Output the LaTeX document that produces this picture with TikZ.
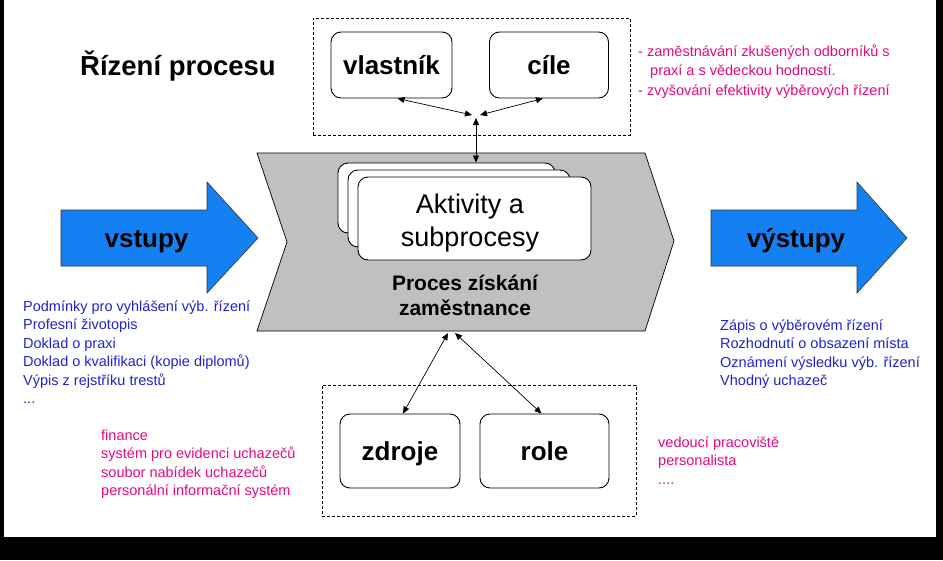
\documentclass[tikz,border=0pt]{standalone}
\usepackage{fontspec}
\setmainfont{Liberation Sans}
\usetikzlibrary{arrows.meta}
\definecolor{pinkt}{RGB}{228,10,130}
\definecolor{bluet}{RGB}{35,35,205}
\definecolor{arrowblue}{RGB}{20,128,242}
\definecolor{chevgray}{RGB}{192,192,192}
\begin{document}
\begin{tikzpicture}[x=1pt,y=-1pt,
  box/.style={draw=black, line width=0.9pt, rounded corners=10pt, fill=white, inner sep=0pt, text depth=0pt},
  grp/.style={draw=black, dash pattern=on 3pt off 2pt, line width=0.8pt, inner sep=0pt},
  link/.style={line width=0.7pt, {Triangle[length=7pt,width=6pt]}-{Triangle[length=7pt,width=6pt]}},
  big/.style={font=\fontsize{26}{30}\selectfont\bfseries},
  small/.style={font=\fontsize{14.5}{18.5}\selectfont, anchor=base west, inner sep=0pt},
  blockarrow/.style={fill=arrowblue, draw=black!80, line width=0.6pt},
]
\useasboundingbox (0,0) rectangle (943,560);
\fill[black] (0,0) rectangle (943,560);
\fill[white] (4,0) rectangle (936,537);

% dashed groups
\node[grp, minimum width=317pt, minimum height=117pt] (topgrp) at (471.5,76.5) {};
\node[grp, minimum width=314pt, minimum height=131pt] (botgrp) at (479,450.5) {};

% chevron
\draw[fill=chevgray, line width=0.7pt] (257,153) -- (645,153) -- (674,241) -- (645,331) -- (257,331) -- (287,242) -- cycle;
\node[font=\fontsize{21}{25}\selectfont\bfseries, align=center, anchor=base, inner sep=0pt] (proc) at (465,315) {Proces získání\\zaměstnance};

% activity boxes
\node[box, minimum width=217pt, minimum height=70pt] (act1) at (446.5,198) {};
\node[box, minimum width=222pt, minimum height=77pt] (act2) at (459,208.5) {};
\node[box, minimum width=233pt, minimum height=83pt] (act3) at (474.5,218.5) {};
\node[font=\fontsize{27}{33}\selectfont, align=center, anchor=base, inner sep=0pt] (acttext) at (470,246) {Aktivity a\\subprocesy};

% top boxes
\node[box, big, minimum width=121pt, minimum height=66pt] (vl) at (391.5,65) {vlastník};
\node[box, big, minimum width=119pt, minimum height=66pt] (ci) at (549,65) {cíle};
% bottom boxes
\node[box, big, minimum width=120pt, minimum height=74pt] (zd) at (400,451) {zdroje};
\node[box, big, minimum width=129pt, minimum height=74pt] (ro) at (544.5,451) {role};

% connectors
\coordinate (jL) at (472,115);
\coordinate (jR) at (480,115);
\coordinate (jT) at (476,118);
\draw[link] ([xshift=6pt]vl.south) -- (jL);
\draw[link] ([xshift=-6pt]ci.south) -- (jR);
\draw[link] (jT) -- (jT |- act1.north);
\coordinate (cb1) at (448,333);
\coordinate (cb2) at (455,333);
\draw[link] (cb1) -- ([xshift=3pt]zd.north);
\draw[link] (cb2) -- ([xshift=-3pt]ro.north);

% block arrows
\draw[blockarrow] (61,210) -- (207,210) -- (207,182) -- (258,238) -- (207,293) -- (207,266) -- (61,266) -- cycle;
\draw[blockarrow] (711,210) -- (857,210) -- (857,182) -- (907,238) -- (857,293) -- (857,266) -- (711,266) -- cycle;
\node[big, anchor=base, inner sep=0pt] (vst) at (146.5,247) {vstupy};
\node[big, anchor=base, inner sep=0pt] (vyst) at (796,247) {výstupy};

% title
\node[font=\fontsize{27.5}{30}\selectfont\bfseries, anchor=base west, inner sep=0pt] (title) at (80,75) {Řízení procesu};

% lists
\node[small, text=bluet] (in1) at (23,311) {Podmínky pro vyhlášení výb. řízení};
\node[small, text=bluet] (in2) at (23,329.5) {Profesní životopis};
\node[small, text=bluet] (in3) at (23,348) {Doklad o praxi};
\node[small, text=bluet] (in4) at (23,366.5) {Doklad o kvalifikaci (kopie diplomů)};
\node[small, text=bluet] (in5) at (23,385) {Výpis z rejstříku trestů};
\node[small, text=bluet] (in6) at (23,403.5) {...};

\node[small, text=bluet] (out1) at (720,330) {Zápis o výběrovém řízení};
\node[small, text=bluet] (out2) at (720,348.5) {Rozhodnutí o obsazení místa};
\node[small, text=bluet] (out3) at (720,367) {Oznámení výsledku výb. řízení};
\node[small, text=bluet] (out4) at (720,385.5) {Vhodný uchazeč};

\node[small, text=pinkt] (g1) at (638,56) {- zaměstnávání zkušených odborníků s};
\node[small, text=pinkt] (g2) at (650,75.5) {praxí a s vědeckou hodností.};
\node[small, text=pinkt] (g3) at (638,95) {- zvyšování efektivity výběrových řízení};

\node[small, text=pinkt] (res1) at (101,440) {finance};
\node[small, text=pinkt] (res2) at (101,458.5) {systém pro evidenci uchazečů};
\node[small, text=pinkt] (res3) at (101,477) {soubor nabídek uchazečů};
\node[small, text=pinkt] (res4) at (101,495.5) {personální informační systém};

\node[small, text=pinkt] (rol1) at (658,447) {vedoucí pracoviště};
\node[small, text=pinkt] (rol2) at (658,465.5) {personalista};
\node[small, text=pinkt] (rol3) at (658,484) {....};
\end{tikzpicture}
\end{document}
